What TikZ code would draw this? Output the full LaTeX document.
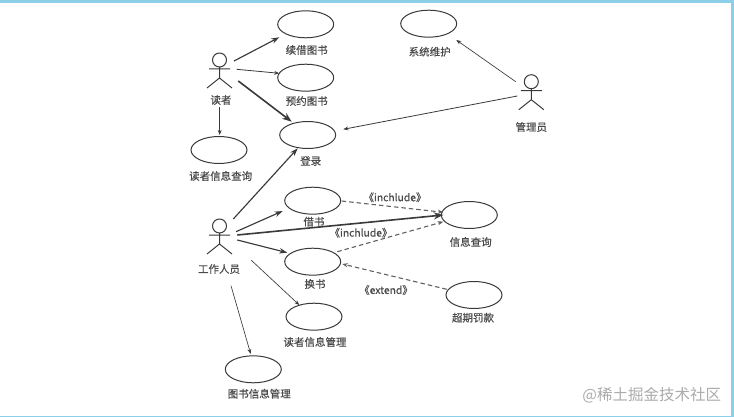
\documentclass[tikz,border=0pt]{standalone}
\usepackage{fontspec}
\setmainfont[FakeBold=0.35]{Noto Sans CJK SC}
\newfontfamily\markfont{Noto Sans CJK SC}
\usetikzlibrary{arrows.meta,shapes.geometric}
\definecolor{ink}{HTML}{3A3A3A}
\definecolor{txt}{HTML}{4A4A4A}
\definecolor{edge}{HTML}{8CCFE8}
\definecolor{mark}{HTML}{ABABAB}
\tikzset{
  usecase/.style={ellipse,draw=ink,line width=1pt,fill=white,minimum width=56pt,minimum height=27pt,inner sep=0pt},
  actorbox/.style={circle,minimum size=40pt,inner sep=0pt},
  lab/.style={text=txt,font=\fontsize{10.5}{12}\selectfont,inner sep=0pt},
  stereo/.style={text=txt,font=\fontsize{10.3}{12}\selectfont,inner sep=0pt},
  arrthin/.style={draw=ink,line width=0.65pt,-{Stealth[length=5pt,width=3.8pt]}},
  arrmid/.style={draw=ink,line width=1.15pt,-{Stealth[length=8pt,width=5.5pt]}},
  arrbig/.style={draw=ink,line width=1.6pt,-{Stealth[length=9.5pt,width=7pt]}},
  arrdash/.style={draw=ink!80,line width=1.1pt,dash pattern=on 4.5pt off 3pt,-{Stealth[length=5.5pt,width=4.2pt]}},
  stickman/.pic={
    \draw[ink,line width=1pt,line join=round] (0,-9) circle[radius=7]
      (-10.5,0) -- (10.5,0) (0,-2) -- (0,9) (-12.5,19) -- (0,9) -- (12.5,19);
  }
}
\begin{document}
\begin{tikzpicture}[x=1pt,y=-1pt]
\useasboundingbox (0,0) rectangle (734,417);
\fill[edge] (0,0) rectangle (734,417);
\fill[white] (0,3.5) rectangle (731,416);

% use cases
\node[usecase] (xj) at (305.7,24.3) {};
\node[usecase] (yy) at (305.7,77.7) {};
\node[usecase] (dl) at (307.7,135) {};
\node[usecase] (dc) at (219,150) {};
\node[usecase] (jb) at (312.7,200.7) {};
\node[usecase] (cx) at (469.3,215) {};
\node[usecase] (hb) at (312.7,261.7) {};
\node[usecase] (cq) at (474,295) {};
\node[usecase] (dg) at (314,316.7) {};
\node[usecase] (tg) at (253.3,369.3) {};
\node[usecase] (wh) at (428.7,23.7) {};

% actors
\node[actorbox] (reader) at (219.5,69) {};
\node[actorbox] (worker) at (219.5,235) {};
\node[actorbox] (admin) at (531.3,90.7) {};
\pic at (reader.center) {stickman};
\pic at (worker.center) {stickman};
\pic at (admin.center) {stickman};

% labels
\node[lab] (l1) at (221,100) {读者};
\node[lab] (l2) at (306.7,50) {续借图书};
\node[lab] (l3) at (306.7,101) {预约图书};
\node[lab] (l4) at (310.7,161) {登录};
\node[lab] (l5) at (220.7,176) {读者信息查询};
\node[lab] (l6) at (314,221.7) {借书};
\node[lab] (l7) at (219,269) {工作人员};
\node[lab] (l8) at (470.7,242) {信息查询};
\node[lab] (l9) at (315,284) {换书};
\node[lab] (l10) at (473,317.7) {超期罚款};
\node[lab] (l11) at (315,342) {读者信息管理};
\node[lab] (l12) at (259.3,393.7) {图书信息管理};
\node[lab] (l13) at (429.7,51.7) {系统维护};
\node[lab] (l14) at (531.3,127) {管理员};
\node[stereo] (s1) at (395,197.3) {《inchlude》};
\node[stereo] (s2) at (361,232.7) {《inchlude》};
\node[stereo] (s3) at (386,290) {《extend》};
\node[text=mark,font=\markfont\fontsize{15.5}{18}\selectfont,inner sep=0pt] (wm) at (651.7,395) {@稀土掘金技术社区};

% connectors
\draw[arrmid] ([shift={(14.5,-8)}]reader.center) -- ([shift={(-26.4,13)}]xj.center);
\draw[arrthin,line width=0.8pt] ([shift={(17.2,0.3)}]reader.center) -- ([shift={(-26.4,-4.4)}]yy.center);
\draw[arrbig] ([shift={(18.8,12)}]reader.center) -- ([shift={(-16,-13.3)}]dl.center);
\draw[arrthin] ([shift={(0.2,38.3)}]reader.center) -- ([shift={(0.7,-15)}]dc.center);
\draw[arrmid] ([shift={(13.8,-16)}]worker.center) -- ([shift={(-10,13.3)}]dl.center);
\draw[arrmid] ([shift={(16.5,-3.3)}]worker.center) -- ([shift={(-30,10.3)}]jb.center);
\draw[arrbig] ([shift={(17.8,0)}]worker.center) -- ([shift={(-26,0)}]cx.center);
\draw[arrmid] ([shift={(17.8,5)}]worker.center) -- ([shift={(-25.4,-9)}]hb.center);
\draw[arrthin] ([shift={(31.5,25)}]worker.center) -- ([shift={(-14.7,-11.7)}]dg.center);
\draw[arrthin] ([shift={(11.5,50.7)}]worker.center) -- ([shift={(-2.6,-15.3)}]tg.center);
\draw[arrthin] ([shift={(-15.6,-9)}]admin.center) -- ([shift={(27.6,16.3)}]wh.center);
\draw[arrthin,line width=0.8pt] ([shift={(-14,5.3)}]admin.center) -- ([shift={(35.6,-5.7)}]dl.center);
\draw[arrdash] ([shift={(29,0.3)}]jb.center) -- ([shift={(-26,-2.7)}]cx.center);
\draw[arrdash] ([shift={(24.6,-10)}]hb.center) -- ([shift={(-26,6.7)}]cx.center);
\draw[arrdash] ([shift={(-27.3,-5.7)}]cq.center) -- ([shift={(29.6,2.3)}]hb.center);
\end{tikzpicture}
\end{document}
